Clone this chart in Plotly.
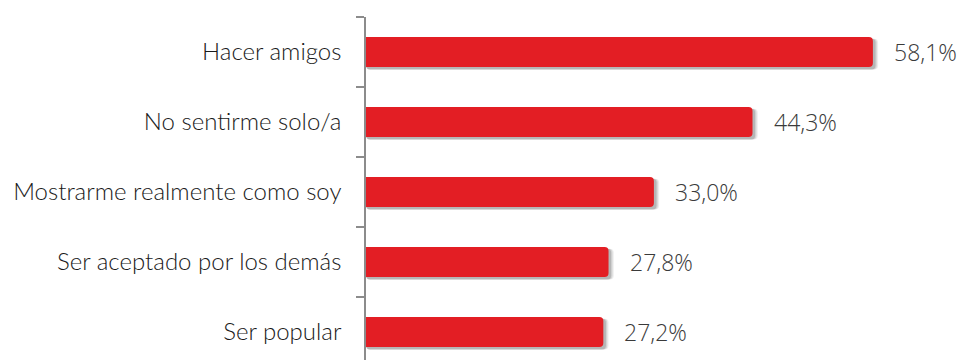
import plotly.graph_objects as go

categories = ["Hacer amigos", "No sentirme solo/a", "Mostrarme realmente como soy",
              "Ser aceptado por los demás", "Ser popular"]
values = [58.1, 44.3, 33.0, 27.8, 27.2]
value_labels = ["58,1%", "44,3%", "33,0%", "27,8%", "27,2%"]

RED = "#E31E24"

fig = go.Figure()

# soft shadow layers
for dx, alpha in [(0.6, 0.07), (0.45, 0.10), (0.3, 0.14)]:
    fig.add_trace(go.Bar(
        y=categories, x=[v + dx for v in values], orientation="h",
        width=0.44, offset=-0.19, base=0,
        marker=dict(color=f"rgba(0,0,0,{alpha})", cornerradius=4, line=dict(width=0)),
        hoverinfo="skip", showlegend=False,
    ))

fig.add_trace(go.Bar(
    y=categories, x=values, orientation="h", width=0.43,
    marker=dict(color=RED, cornerradius=4, line=dict(width=0)),
    showlegend=False,
))

for c, v, t in zip(categories, values, value_labels):
    fig.add_annotation(x=v, y=c, text=t, xanchor="left", yanchor="middle",
                       xshift=19, showarrow=False,
                       font=dict(family="Open Sans, sans-serif", size=23, color="#3a3a3a",
                                 weight=300))

fig.update_layout(
    width=960, height=352,
    margin=dict(l=358, r=0, t=9, b=0, autoexpand=False),
    paper_bgcolor="white", plot_bgcolor="white",
    barmode="overlay",
    xaxis=dict(range=[0, 69], visible=False, showgrid=False, zeroline=False),
    yaxis=dict(
        type="category", categoryorder="array", categoryarray=categories,
        range=[4.4, -0.5], automargin=False,
        showline=True, linecolor="#8c8c8c", linewidth=1.5,
        ticks="outside", tickson="boundaries", ticklen=8, tickcolor="#8c8c8c", tickwidth=1.5,
        ticklabelstandoff=18,
        tickfont=dict(family="Lato, sans-serif", size=24, color="#1a1a1a", weight=300),
        showgrid=False, zeroline=False,
    ),
)

fig.write_html("out.html")
